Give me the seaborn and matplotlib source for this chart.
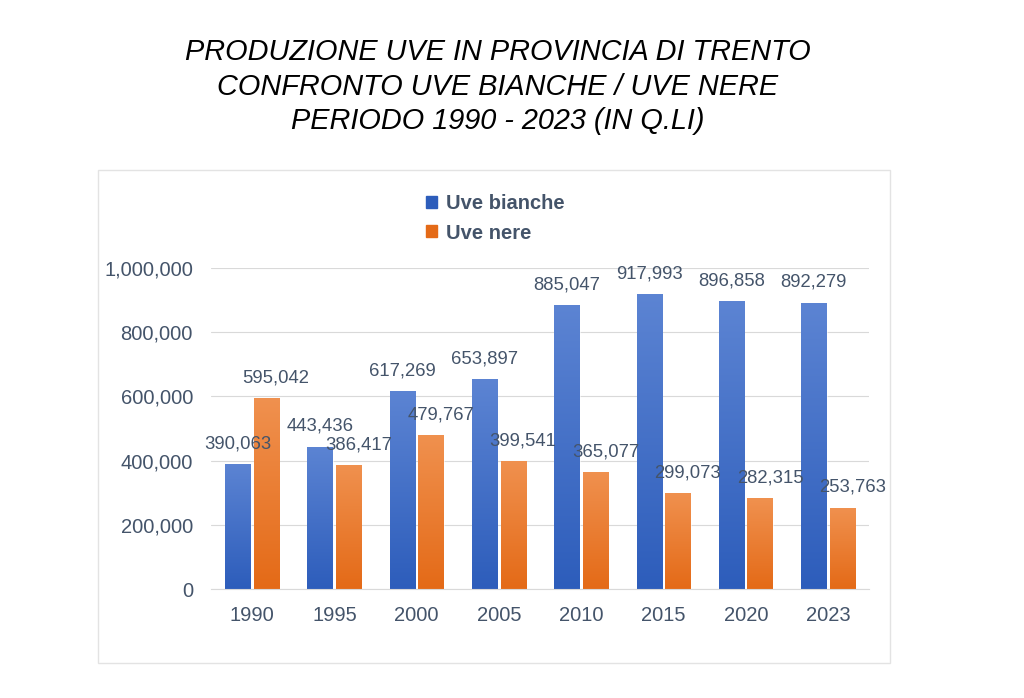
import numpy as np
import pandas as pd
import matplotlib
matplotlib.use("Agg")
import matplotlib.pyplot as plt
from matplotlib.colors import LinearSegmentedColormap
from matplotlib.patches import Rectangle
import seaborn as sns

# Dati: produzione uve in provincia di Trento (q.li)
anni = ["1990", "1995", "2000", "2005", "2010", "2015", "2020", "2023"]
uve_bianche = [390063, 443436, 617269, 653897, 885047, 917993, 896858, 892279]
uve_nere = [595042, 386417, 479767, 399541, 365077, 299073, 282315, 253763]
serie = ["Uve bianche", "Uve nere"]

df = pd.DataFrame({
    "Anno": anni * 2,
    "Valore": uve_bianche + uve_nere,
    "Tipo": [serie[0]] * len(anni) + [serie[1]] * len(anni),
})

sns.set_theme(style="white")
plt.rcParams["font.family"] = ["Liberation Sans", "DejaVu Sans"]

testo = "#44546A"
griglia = "#D9D9D9"
colori = {"Uve bianche": "#4472C4", "Uve nere": "#ED7D31"}
# gradiente: (colore in alto, colore in basso)
gradienti = {
    "Uve bianche": ("#5C84D3", "#2D5DBB"),
    "Uve nere": ("#F0914F", "#E46A17"),
}
# spostamento orizzontale delle etichette (punti), come nell'originale
spost_etichette = {"Uve bianche": 0, "Uve nere": 7}

fig = plt.figure(figsize=(10.24, 6.98), dpi=100)
ax = fig.add_axes([0.206, 0.156, 0.643, 0.46])

sns.barplot(data=df, x="Anno", y="Valore", hue="Tipo", order=anni,
            hue_order=serie, palette=colori, width=0.695, gap=0.11,
            errorbar=None, legend=False, ax=ax)

# gradienti sulle barre
for cont, nome in zip(ax.containers, serie):
    cmap = LinearSegmentedColormap.from_list(nome, [gradienti[nome][1], gradienti[nome][0]])
    for bar in cont:
        x0, y0 = bar.get_x(), bar.get_y()
        w, h = bar.get_width(), bar.get_height()
        grad = np.linspace(0, 1, 256).reshape(-1, 1)
        im = ax.imshow(grad, cmap=cmap, aspect="auto", origin="lower",
                       extent=[x0, x0 + w, y0, y0 + h], zorder=2)
        im.set_clip_path(bar)
        bar.set_facecolor("none")
        bar.set_edgecolor("#FFFFFF")
        bar.set_linewidth(0.4)
    etichette = ax.bar_label(cont, labels=[f"{v:,.0f}" for v in cont.datavalues],
                             padding=8, fontsize=13.3, color=testo)
    for t in etichette:
        t.xyann = (spost_etichette[nome], 8.5)

ax.set_xlim(-0.5, len(anni) - 0.5)
ax.set_ylim(0, 1000000)

ax.yaxis.set_major_locator(plt.MultipleLocator(200000))
ax.yaxis.set_major_formatter(plt.FuncFormatter(lambda v, p: f"{v:,.0f}"))
ax.grid(axis="y", color=griglia, linewidth=0.8, zorder=0)
ax.set_axisbelow(True)
for s in ["top", "right", "left"]:
    ax.spines[s].set_visible(False)
ax.spines["bottom"].set_color(griglia)
ax.spines["bottom"].set_linewidth(0.8)
ax.tick_params(axis="both", length=0, labelsize=14.5, labelcolor=testo)
ax.tick_params(axis="y", pad=13)
ax.tick_params(axis="x", pad=12)
ax.set_xlabel("")
ax.set_ylabel("")

# legenda
handles = [Rectangle((0, 0), 1, 1, color=gradienti[n][1]) for n in serie]
leg = fig.legend(handles, serie, loc="center left",
                 bbox_to_anchor=(0.398, 0.687), frameon=False,
                 prop={"size": 14.5, "weight": "bold"},
                 handlelength=0.55, handleheight=0.55, handletextpad=0.45,
                 labelspacing=0.5, labelcolor=testo)

# cornice del grafico
fig.add_artist(Rectangle((98 / 1024, 1 - 663 / 698), 792 / 1024, 493 / 698,
                         transform=fig.transFigure, fill=False,
                         edgecolor="#E3E3E3", linewidth=1.0))

fig.text(0.486, 0.876,
         "PRODUZIONE UVE IN PROVINCIA DI TRENTO\n"
         "CONFRONTO UVE BIANCHE / UVE NERE\n"
         "PERIODO 1990 - 2023 (IN Q.LI)",
         ha="center", va="center", fontsize=20.8, style="italic",
         color="black", linespacing=1.28)

fig.savefig("out.png", dpi=100)
